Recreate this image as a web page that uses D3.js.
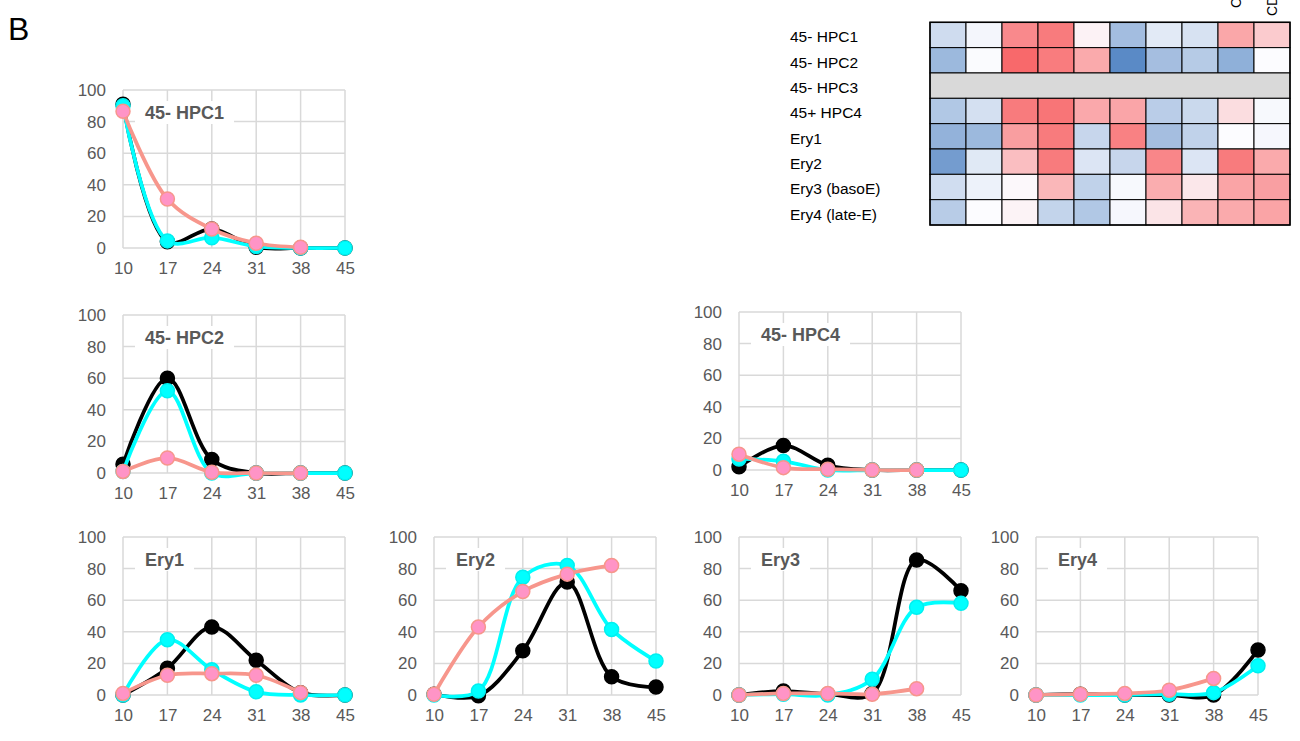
<!DOCTYPE html>
<html>
<head>
<meta charset="utf-8">
<script src="https://cdn.jsdelivr.net/npm/d3@7/dist/d3.min.js"></script>
<style>
  html, body { margin: 0; padding: 0; background: #fff; }
  svg { display: block; }
</style>
</head>
<body>
<svg id="chart" width="1300" height="741"></svg>
<script>
// ---------------- DATA ----------------
const days = [10, 17, 24, 31, 38, 45];
const daysPink = [10, 17, 24, 31, 38];
const yTicks = [0, 20, 40, 60, 80, 100];

// black series
const hpc1Black = [91, 4, 12, 0.5, 0, 0];
const hpc2Black = [5.5, 60, 8.5, 0, 0, 0];
const hpc4Black = [2, 15.5, 3, 0, 0, 0];
const ery1Black = [0, 17, 43, 22, 1.5, 0];
const ery2Black = [0.5, -0.5, 28, 71.5, 11.5, 5];
const ery3Black = [0, 2.5, 0.5, 1, 85.5, 66];
const ery4Black = [0, 0.5, 0, 0, 0, 28.5];

// cyan series
const hpc1Cyan = [90, 4.5, 6.5, 1, 0, 0];
const hpc2Cyan = [1, 52, 0, 0, 0, 0];
const hpc4Cyan = [7, 5.5, 0, 0, 0, 0];
const ery1Cyan = [0, 35, 16, 2, 0, 0];
const ery2Cyan = [0, 2.5, 74.5, 82, 41.5, 21.5];
const ery3Cyan = [0, 0.5, 0, 10, 55.5, 58];
const ery4Cyan = [0, 0, 0, 0.5, 1.5, 18.5];

// pink series (no value at day 45)
const hpc1Pink = [86.5, 31, 12, 3, 0.5];
const hpc2Pink = [1, 9.5, 0.5, 0, 0];
const hpc4Pink = [10, 1.5, 0.5, 0, 0];
const ery1Pink = [1, 12.5, 13.5, 12.5, 1.5];
const ery2Pink = [0.5, 43, 65.5, 76.5, 82];
const ery3Pink = [0, 1, 1, 0.5, 4];
const ery4Pink = [0, 0.5, 1, 3, 10.5];

const panelTitles = ["45- HPC1", "45- HPC2", "45- HPC4", "Ery1", "Ery2", "Ery3", "Ery4"];

// heatmap
const rowLabels = ["45- HPC1", "45- HPC2", "45- HPC3", "45+ HPC4", "Ery1", "Ery2", "Ery3 (basoE)", "Ery4 (late-E)"];
const colLabels = ["", "", "", "", "", "", "", "", "CD", "CD"];
const heatValues = [
  [-0.28, -0.05, 0.78, 0.88, 0.07, -0.55, -0.16, -0.23, 0.58, 0.33],
  [-0.59, -0.01, 1.00, 0.87, 0.56, -1.00, -0.54, -0.43, -0.67, 0.00],
  null,
  [-0.46, -0.25, 0.88, 0.92, 0.57, 0.59, -0.41, -0.31, 0.21, -0.03],
  [-0.65, -0.59, 0.64, 0.88, -0.33, 0.84, -0.54, -0.37, 0.00, -0.04],
  [-0.84, -0.17, 0.42, 0.88, -0.20, -0.33, 0.80, -0.20, 0.88, 0.56],
  [-0.27, -0.09, 0.03, 0.47, -0.37, -0.03, 0.54, 0.14, 0.60, 0.63],
  [-0.42, 0.00, 0.06, -0.35, -0.46, -0.04, 0.16, 0.49, 0.56, 0.60]
];

// ---------------- LAYOUT ----------------
const panels = [
  { title: panelTitles[0], left: 123, top: 90,  black: hpc1Black, cyan: hpc1Cyan, pink: hpc1Pink },
  { title: panelTitles[1], left: 123, top: 315, black: hpc2Black, cyan: hpc2Cyan, pink: hpc2Pink },
  { title: panelTitles[2], left: 739, top: 312, black: hpc4Black, cyan: hpc4Cyan, pink: hpc4Pink },
  { title: panelTitles[3], left: 123, top: 537, black: ery1Black, cyan: ery1Cyan, pink: ery1Pink },
  { title: panelTitles[4], left: 434, top: 537, black: ery2Black, cyan: ery2Cyan, pink: ery2Pink },
  { title: panelTitles[5], left: 739, top: 537, black: ery3Black, cyan: ery3Cyan, pink: ery3Pink },
  { title: panelTitles[6], left: 1036, top: 537, black: ery4Black, cyan: ery4Cyan, pink: ery4Pink }
];
const PW = 222, PH = 158;
const gridColor = "#d9d9d9";
const textColor = "#595959";
const FONT = "'Liberation Sans', Arial, sans-serif";

const svg = d3.select("#chart");

// Panel letter
svg.append("text").attr("x", 8).attr("y", 40)
  .attr("font-family", FONT).attr("font-size", 32).attr("fill", "#000").text("B");

const seriesStyles = [
  { key: "black", line: "#000000", fill: "#000000", stroke: "#000000" },
  { key: "cyan",  line: "#00ffff", fill: "#00ffff", stroke: "#00f0f0" },
  { key: "pink",  line: "#f7968c", fill: "#ff94c6", stroke: "#f7968c" }
];

panels.forEach(p => {
  const x = d3.scaleLinear().domain([10, 45]).range([p.left, p.left + PW]);
  const y = d3.scaleLinear().domain([0, 100]).range([p.top + PH, p.top]);
  const g = svg.append("g");

  // gridlines
  g.selectAll(".hg").data(yTicks).join("line")
    .attr("x1", x(10)).attr("x2", x(45))
    .attr("y1", d => y(d)).attr("y2", d => y(d))
    .attr("stroke", gridColor).attr("stroke-width", 1.5);
  g.selectAll(".vg").data(days).join("line")
    .attr("x1", d => x(d)).attr("x2", d => x(d))
    .attr("y1", y(0)).attr("y2", y(100))
    .attr("stroke", gridColor).attr("stroke-width", 1.5);

  // axes via d3.axis, styled like Excel
  const yAxis = d3.axisLeft(y).tickValues(yTicks).tickSize(0).tickPadding(17);
  const gy = g.append("g").attr("transform", `translate(${p.left},0)`).call(yAxis);
  const xAxis = d3.axisBottom(x).tickValues(days).tickSize(0).tickPadding(14);
  const gx = g.append("g").attr("transform", `translate(0,${p.top + PH})`).call(xAxis);
  [gy, gx].forEach(a => {
    a.select(".domain").remove();
    a.selectAll("text").attr("font-family", FONT).attr("font-size", 17).attr("fill", textColor);
  });

  // title box
  const tb = g.append("g");
  const rect = tb.append("rect").attr("fill", "#fff");
  const t = tb.append("text")
    .attr("x", p.left + 22).attr("y", p.top + 23)
    .attr("dy", "0.36em")
    .attr("font-family", FONT).attr("font-size", 18).attr("font-weight", "bold")
    .attr("fill", textColor).text(p.title);
  const tw = t.node().getComputedTextLength();
  rect.attr("x", p.left + 12).attr("y", p.top + 11).attr("width", tw + 20).attr("height", 23);

  // series
  seriesStyles.forEach(s => {
    const vals = p[s.key];
    const xs = s.key === "pink" ? daysPink : days;
    const pts = vals.map((v, i) => [xs[i], v]);
    const line = d3.line().x(d => x(d[0])).y(d => y(d[1])).curve(d3.curveCatmullRom.alpha(0.5));
    g.append("path").datum(pts).attr("d", line)
      .attr("fill", "none").attr("stroke", s.line).attr("stroke-width", 3.75)
      .attr("stroke-linejoin", "round");
    g.selectAll(null).data(pts).join("circle")
      .attr("cx", d => x(d[0])).attr("cy", d => y(d[1])).attr("r", 7)
      .attr("fill", s.fill).attr("stroke", s.stroke).attr("stroke-width", 1.5);
  });
});

// ---------------- HEATMAP ----------------
const hx = d3.scaleBand().domain(d3.range(10)).range([930, 1290]);
const hy = d3.scaleBand().domain(d3.range(8)).range([22.3, 225]);
const color = d3.scaleLinear().domain([-1, 0, 1]).range(["#5A8AC6", "#FCFCFF", "#F8696B"]);

const hg = svg.append("g");
heatValues.forEach((row, ri) => {
  if (row === null) {
    hg.append("rect").attr("x", hx(0)).attr("y", hy(ri))
      .attr("width", hx.bandwidth() * 10).attr("height", hy.bandwidth())
      .attr("fill", "#d9d9d9").attr("stroke", "#000").attr("stroke-width", 1);
  } else {
    hg.selectAll(null).data(row).join("rect")
      .attr("x", (d, ci) => hx(ci)).attr("y", hy(ri))
      .attr("width", hx.bandwidth()).attr("height", hy.bandwidth())
      .attr("fill", d => color(d)).attr("stroke", "#000").attr("stroke-width", 1);
  }
});
hg.append("rect").attr("x", 930).attr("y", 22.3).attr("width", 360).attr("height", 225 - 22.3)
  .attr("fill", "none").attr("stroke", "#000").attr("stroke-width", 1.5);

hg.selectAll(".rl").data(rowLabels).join("text")
  .attr("x", 790).attr("y", (d, i) => hy(i) + hy.bandwidth() / 2 + 2)
  .attr("dy", "0.35em")
  .attr("font-family", FONT).attr("font-size", 15.5).attr("fill", "#000")
  .text(d => d);

// rotated column labels (cut off at the top of the page, as in the reference)
const colStart = [0, 0, 0, 0, 0, 0, 0, 0, 8, 16];
hg.selectAll(".cl").data(colLabels).join("text")
  .attr("transform", (d, i) => `translate(${hx(i) + hx.bandwidth() / 2 + 5},${colStart[i]}) rotate(-90)`)
  .attr("font-family", FONT).attr("font-size", 14).attr("fill", "#000")
  .text(d => d);
</script>
</body>
</html>
